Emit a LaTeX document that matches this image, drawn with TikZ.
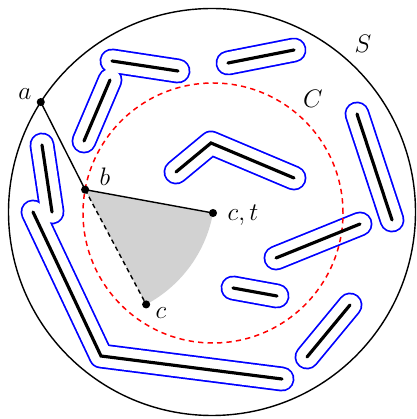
\documentclass[tikz,border=0pt]{standalone}
\usetikzlibrary{calc}
\begin{document}
\begin{tikzpicture}[x=0.02cm,y=0.02cm,
  obsblue/.style={draw=blue,line width=14.2pt,line cap=round,line join=round},
  obswhite/.style={draw=white,line width=12.2pt,line cap=round,line join=round},
  obsblack/.style={draw=black,line width=1.8pt,line cap=round,line join=miter},
  lbl/.style={inner sep=0pt,font=\fontsize{15}{18}\selectfont},
  dot/.style={circle,fill=black,inner sep=0pt,minimum size=4.6pt}]
\useasboundingbox (0,0) rectangle (416,419);
\coordinate (O) at (212,207);
\coordinate (ct) at (213,206);
\coordinate (a) at ($(O)+(147.3:203.5)$);
\coordinate (b) at ($(ct)+(169.65:130)$);
\coordinate (c) at ($(b)+(-62:130)$);
% sector
\fill[gray!35] (b) -- (ct) arc[start angle=-10.35,end angle=-62,radius=130] -- cycle;
% obstacles
\def\obstacles#1{
  \draw[#1] (112,358) -- (178,348);
  \draw[#1] (110,339) -- (84,278);
  \draw[#1] (42,274) -- (52,207);
  \draw[#1] (33,207) -- (101,63) -- (282,40);
  \draw[#1] (228,356) -- (294,369);
  \draw[#1] (176,247) -- (211,276) -- (294,241);
  \draw[#1] (357,305) -- (392,199);
  \draw[#1] (276,161) -- (360,195);
  \draw[#1] (233,131) -- (277,123);
  \draw[#1] (307,62) -- (350,114);
}
\obstacles{obsblue}
\obstacles{obswhite}
% circles
\draw[red,line width=0.85pt,dash pattern=on 3pt off 2.4pt] (ct) circle[radius=130];
\draw[black,line width=0.8pt] (O) circle[radius=203.5];
\obstacles{obsblack}
% lines
\draw[line width=0.8pt] (a) -- (b) -- (ct);
\draw[line width=0.8pt,dash pattern=on 2.6pt off 2pt] (b) -- (c);
\node[dot] (na) at (a) {};
\node[dot] (nb) at (b) {};
\node[dot] (nct) at (ct) {};
\node[dot] (nc) at (c) {};
% labels
\node[lbl] (la) at (25,325) {$a$};
\node[lbl] (lb) at (105,242) {$b$};
\node[lbl] (lct) at (243,204) {$c,t$};
\node[lbl] (lc) at (161,106) {$c$};
\node[lbl] (lS) at (363,375) {$S$};
\node[lbl] (lC) at (313,320) {$C$};
\end{tikzpicture}
\end{document}
